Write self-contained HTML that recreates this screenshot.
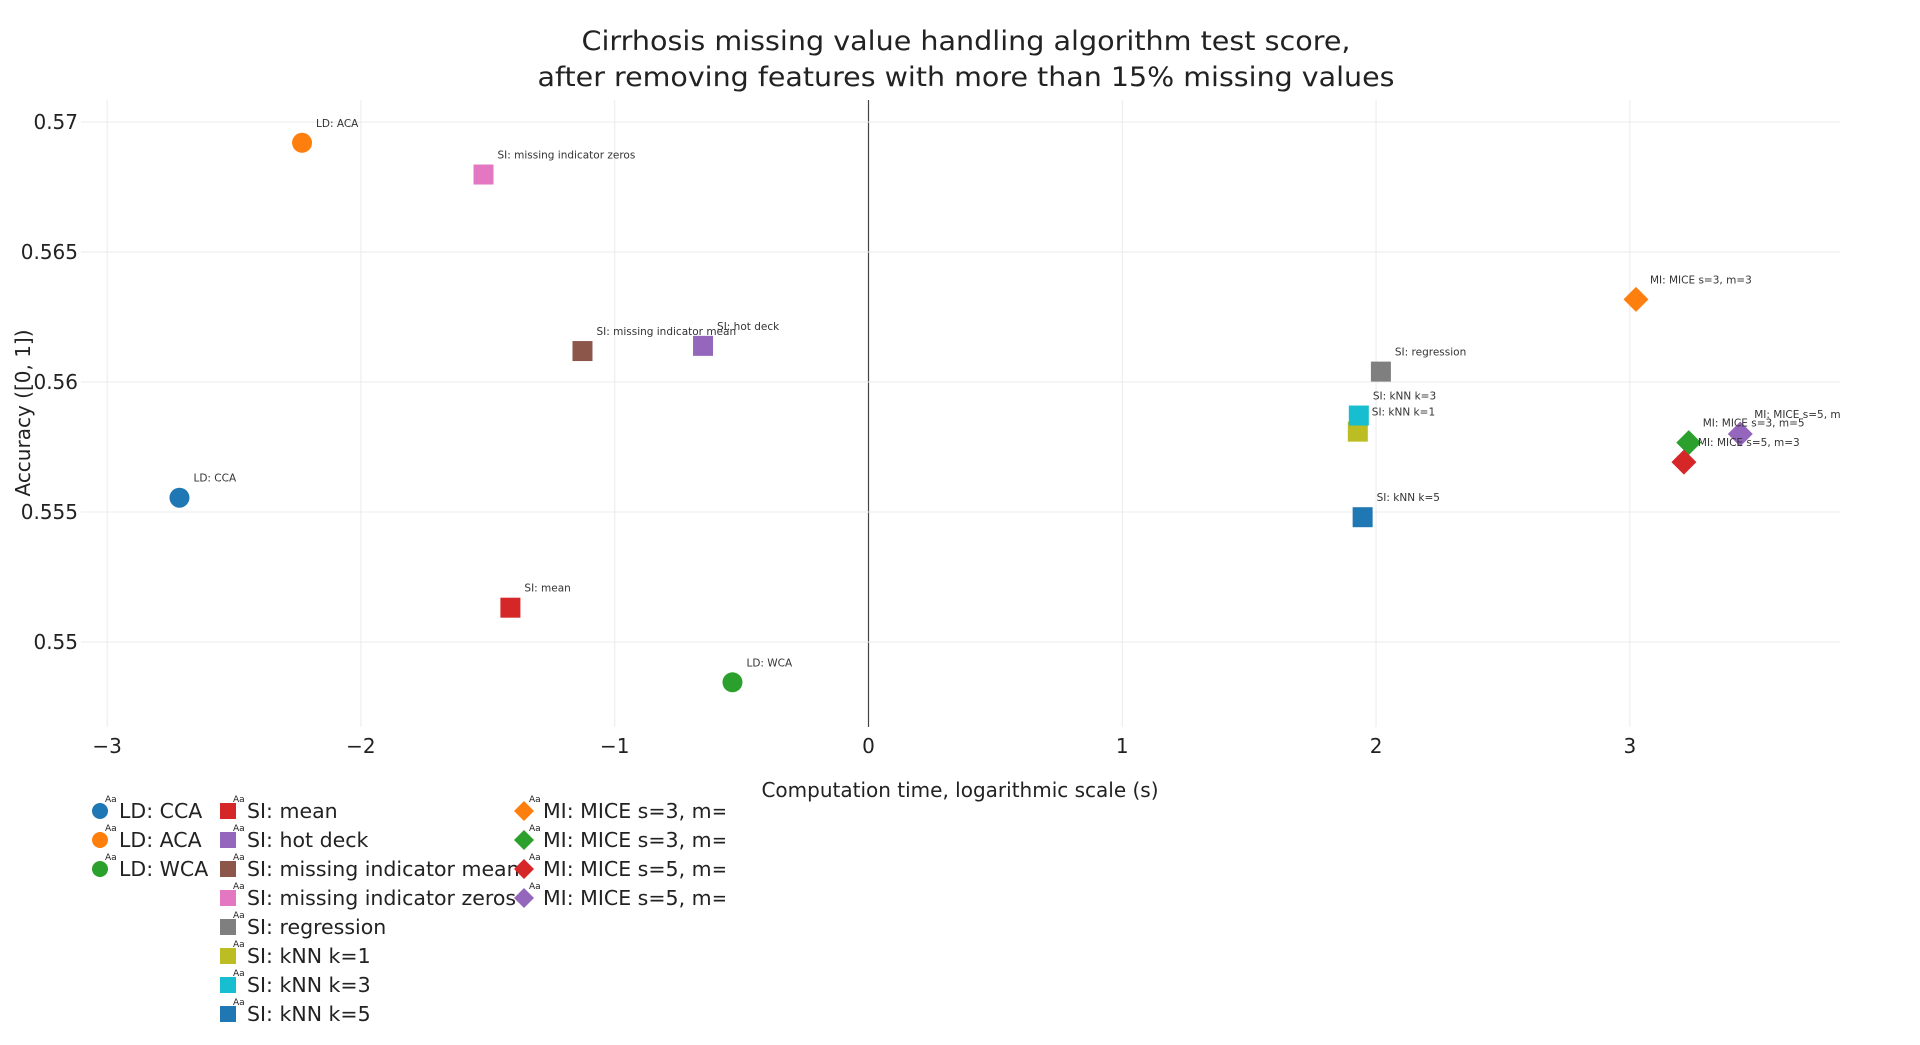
<!DOCTYPE html>
<html><head><meta charset="utf-8">
<style>
html,body{margin:0;padding:0;background:#fff;}
svg{display:block;font-family:"DejaVu Sans","Liberation Sans",sans-serif;}
</style></head>
<body>
<svg id="chart" width="1920" height="1045" viewBox="0 0 1920 1045" xmlns="http://www.w3.org/2000/svg">
<defs><clipPath id="plotclip"><rect x="81" y="100" width="1759" height="627"/></clipPath>
<clipPath id="legclip"><rect x="0" y="780" width="725" height="265"/></clipPath></defs>
<rect width="1920" height="1045" fill="#fff"/>
<g font-size="27" fill="#222" text-anchor="middle">
<text x="966" y="50" textLength="769" lengthAdjust="spacingAndGlyphs">Cirrhosis missing value handling algorithm test score,</text>
<text x="966" y="86" textLength="857" lengthAdjust="spacingAndGlyphs">after removing features with more than 15% missing values</text>
</g>
<g id="grid"></g>
<g id="xticks" font-size="20" fill="#222" text-anchor="middle"></g>
<g id="yticks" font-size="20" fill="#222" text-anchor="end"></g>
<text x="960" y="797" font-size="20" fill="#222" text-anchor="middle">Computation time, logarithmic scale (s)</text>
<text x="0" y="0" font-size="20" fill="#222" text-anchor="middle" transform="translate(30,413) rotate(-90)">Accuracy ([0, 1])</text>
<g id="marks"></g>
<g id="labels" clip-path="url(#plotclip)" font-size="10.5" fill="#333"></g>
<g id="legend" font-size="20.5" fill="#222" clip-path="url(#legclip)"></g>
</svg>
<script>
const names = ["LD: CCA","LD: ACA","LD: WCA","SI: mean","SI: hot deck","SI: missing indicator mean","SI: missing indicator zeros","SI: regression","SI: kNN k=1","SI: kNN k=3","SI: kNN k=5","MI: MICE s=3, m=3","MI: MICE s=3, m=5","MI: MICE s=5, m=3","MI: MICE s=5, m=5"];
const timeLog = [-2.715,-2.232,-0.536,-1.411,-0.652,-1.127,-1.517,2.019,1.928,1.932,1.947,3.024,3.232,3.213,3.435];
const accuracy = [0.55555,0.56920,0.54845,0.55132,0.56139,0.56119,0.56798,0.56040,0.55809,0.55871,0.55480,0.56318,0.55767,0.55692,0.55800];
const colors = ["#1f77b4","#ff7f0e","#2ca02c","#d62728","#9467bd","#8c564b","#e377c2","#7f7f7f","#bcbd22","#17becf","#1f77b4","#ff7f0e","#2ca02c","#d62728","#9467bd"];
const shapes = ["circle","circle","circle","square","square","square","square","square","square","square","square","diamond","diamond","diamond","diamond"];
const xTicks = [-3,-2,-1,0,1,2,3];
const xTickLabels = ["\u22123","\u22122","\u22121","0","1","2","3"];
const yTicks = [0.55,0.555,0.56,0.565,0.57];
const yTickLabels = ["0.55","0.555","0.56","0.565","0.57"];

const NS="http://www.w3.org/2000/svg";
const X0=81,X1=1840,Y0=100,Y1=727;
const xMin=-3.103,xMax=3.828,yMin=0.546731,yMax=0.570846;
function sx(v){return X0+(v-xMin)/(xMax-xMin)*(X1-X0);}
function sy(v){return Y1-(v-yMin)/(yMax-yMin)*(Y1-Y0);}
function mk(tag,attrs,parent){const e=document.createElementNS(NS,tag);for(const k in attrs)e.setAttribute(k,attrs[k]);parent.appendChild(e);return e;}
function shape(kind,cx,cy,color,parent,s){
  let e;
  if(kind==="circle"){e=mk("circle",{cx:cx,cy:cy,r:10*s,fill:color},parent);}
  else if(kind==="square"){e=mk("rect",{x:cx-10*s,y:cy-10*s,width:20*s,height:20*s,fill:color},parent);}
  else {const h=12.5*s;e=mk("polygon",{points:`${cx},${cy-h} ${cx+h},${cy} ${cx},${cy+h} ${cx-h},${cy}`,fill:color},parent);}
  return e;
}
const grid=document.getElementById("grid");
xTicks.forEach((t,i)=>{
  const l=mk("line",{x1:sx(t),x2:sx(t),y1:Y0,y2:Y1,stroke:t===0?"#444":"#ebebeb","stroke-width":t===0?1.2:1},grid);
  
  
  const tx=mk("text",{x:sx(t),y:Y1+26},document.getElementById("xticks"));
  tx.textContent=xTickLabels[i];
  
  
});
yTicks.forEach((t,i)=>{
  const l=mk("line",{x1:X0,x2:X1,y1:sy(t),y2:sy(t),stroke:"#ebebeb","stroke-width":1},grid);
  
  
  const tx=mk("text",{x:X0-3,y:sy(t)+7},document.getElementById("yticks"));
  tx.textContent=yTickLabels[i];
  
  
});
const marks=document.getElementById("marks"),labels=document.getElementById("labels");
names.forEach((n,i)=>{
  const cx=sx(timeLog[i]),cy=sy(accuracy[i]);
  const e=shape(shapes[i],cx,cy,colors[i],marks,1);
  
  
  const t=mk("text",{x:cx+14,y:cy-16},labels);
  t.textContent=n;
  
  
});
const legend=document.getElementById("legend");
const colX=[100,228,524];
const groups=[[0,1,2],[3,4,5,6,7,8,9,10],[11,12,13,14]];
groups.forEach((g,c)=>{
  g.forEach((idx,r)=>{
    const y=811+r*29;
    const item=mk("g",{},legend);
    
    
    shape(shapes[idx],colX[c],y,colors[idx],item,0.8);
    const aa=mk("text",{x:colX[c]+5,y:y-9,"font-size":"9"},item);
    aa.textContent="Aa";
    const t=mk("text",{x:colX[c]+19,y:y+7},item);
    t.textContent=names[idx];
  });
});
</script>
</body></html>
